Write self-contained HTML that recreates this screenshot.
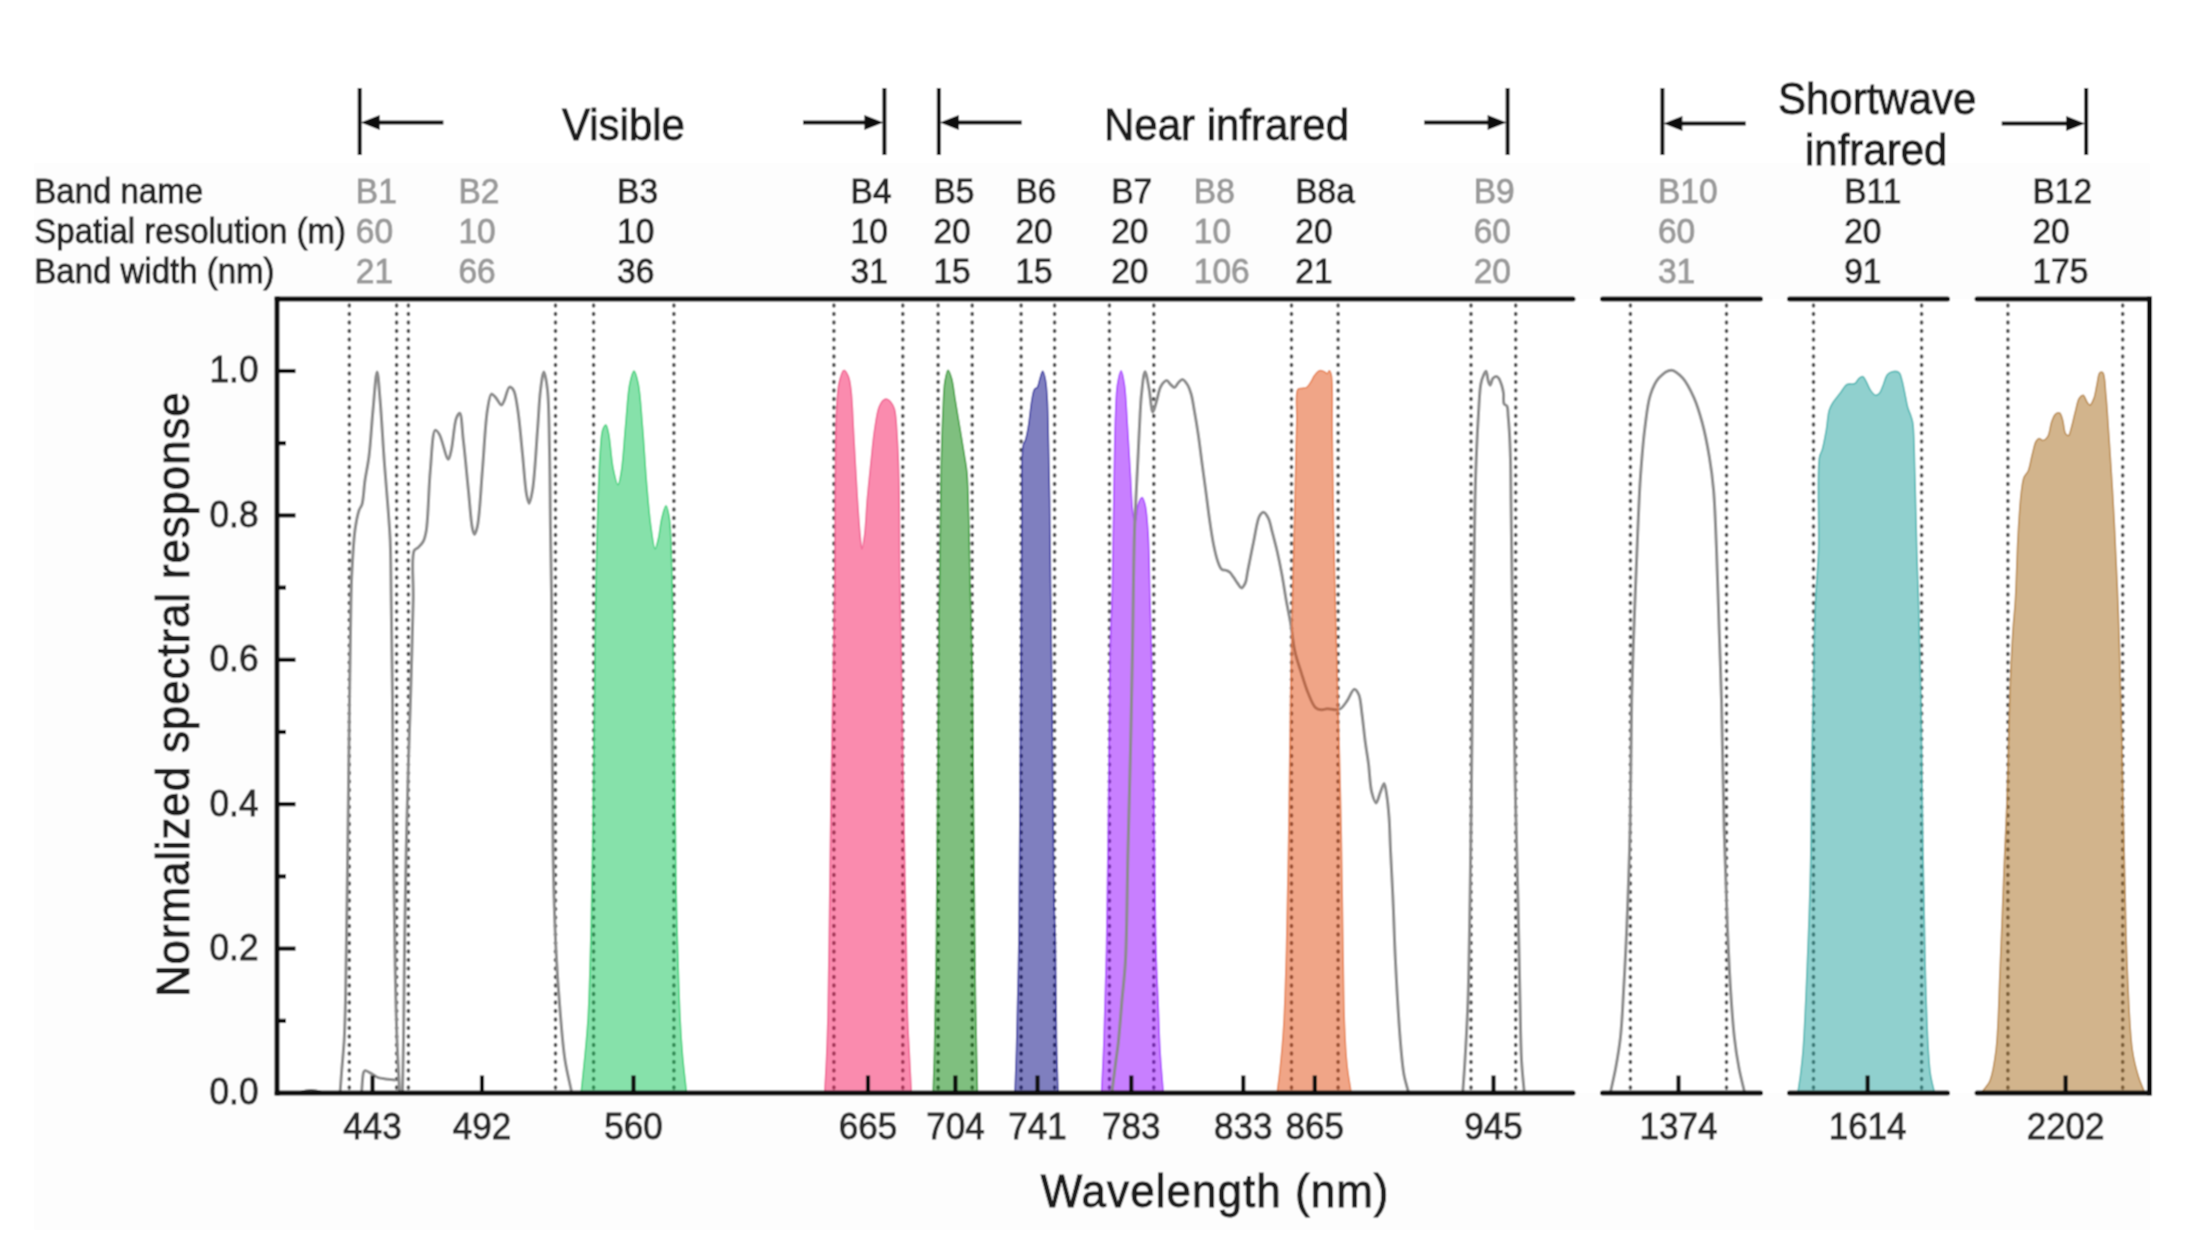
<!DOCTYPE html>
<html><head><meta charset="utf-8"><title>Sentinel-2 MSI spectral response</title>
<style>html,body{margin:0;padding:0;background:#fff;}body{width:2207px;height:1247px;overflow:hidden;}svg{display:block;}text{font-family:"Liberation Sans",Arial,sans-serif;stroke-width:0.9px;}</style>
</head><body>
<svg width="2207" height="1247" viewBox="0 0 2207 1247">
<defs><filter id="soft" filterUnits="userSpaceOnUse" x="0" y="0" width="2207" height="1247"><feConvolveMatrix order="3" kernelMatrix="1 2 1 2 4 2 1 2 1" edgeMode="duplicate"/></filter></defs>
<g filter="url(#soft)">
<rect x="0" y="0" width="2207" height="1247" fill="#ffffff"/>
<rect x="34" y="163" width="2116" height="1067" fill="#fdfdfd"/>
<rect x="277" y="299" width="1873" height="794" fill="#ffffff"/>
<line x1="359.7" y1="88" x2="359.7" y2="155" stroke="#111" stroke-width="4"/>
<line x1="369.7" y1="122.5" x2="443.4" y2="122.5" stroke="#111" stroke-width="4"/>
<polygon points="360.7,122.5 379.7,115 379.7,130" fill="#111"/>
<line x1="803" y1="122.5" x2="874.4" y2="122.5" stroke="#111" stroke-width="4"/>
<polygon points="883.4,122.5 864.4,115 864.4,130" fill="#111"/>
<line x1="884.4" y1="88" x2="884.4" y2="155" stroke="#111" stroke-width="4"/>
<line x1="938.8" y1="88" x2="938.8" y2="155" stroke="#111" stroke-width="4"/>
<line x1="948.8" y1="122.5" x2="1021.7" y2="122.5" stroke="#111" stroke-width="4"/>
<polygon points="939.8,122.5 958.8,115 958.8,130" fill="#111"/>
<line x1="1424.2" y1="122.5" x2="1497.6" y2="122.5" stroke="#111" stroke-width="4"/>
<polygon points="1506.6,122.5 1487.6,115 1487.6,130" fill="#111"/>
<line x1="1507.6" y1="88" x2="1507.6" y2="155" stroke="#111" stroke-width="4"/>
<line x1="1662.4" y1="88" x2="1662.4" y2="155" stroke="#111" stroke-width="4"/>
<line x1="1672.4" y1="123.4" x2="1745.7" y2="123.4" stroke="#111" stroke-width="4"/>
<polygon points="1663.4,123.4 1682.4,115.9 1682.4,130.9" fill="#111"/>
<line x1="2001.7" y1="123.4" x2="2076.2" y2="123.4" stroke="#111" stroke-width="4"/>
<polygon points="2085.2,123.4 2066.2,115.9 2066.2,130.9" fill="#111"/>
<line x1="2086.2" y1="88" x2="2086.2" y2="155" stroke="#111" stroke-width="4"/>
<g font-size="42" fill="#1a1a1a" stroke="#1a1a1a">
<text x="562" y="139.6" transform="matrix(1,0,0,1.04,0,-5.584)">Visible</text>
<text x="1104" y="139.6" transform="matrix(1,0,0,1.04,0,-5.584)">Near infrared</text>
<text x="1778" y="114.4" transform="matrix(1,0,0,1.04,0,-4.576)">Shortwave</text>
<text x="1805" y="164.6" transform="matrix(1,0,0,1.04,0,-6.584)">infrared</text>
</g>
<g font-size="33.5">
<text x="34.3" y="202.6" font-size="33" fill="#262626" stroke="#262626" transform="matrix(1,0,0,1.04,0,-8.104)">Band name</text>
<text x="34.3" y="242.6" font-size="33" fill="#262626" stroke="#262626" transform="matrix(1,0,0,1.04,0,-9.704)">Spatial resolution (m)</text>
<text x="34.3" y="282.6" font-size="33" fill="#262626" stroke="#262626" transform="matrix(1,0,0,1.04,0,-11.304)">Band width (nm)</text>
<text x="355.8" y="202.6" fill="#9a9a9a" stroke="#9a9a9a" transform="matrix(1,0,0,1.04,0,-8.104)">B1</text>
<text x="355.8" y="242.6" fill="#9a9a9a" stroke="#9a9a9a" transform="matrix(1,0,0,1.04,0,-9.704)">60</text>
<text x="355.8" y="282.6" fill="#9a9a9a" stroke="#9a9a9a" transform="matrix(1,0,0,1.04,0,-11.304)">21</text>
<text x="458.5" y="202.6" fill="#9a9a9a" stroke="#9a9a9a" transform="matrix(1,0,0,1.04,0,-8.104)">B2</text>
<text x="458.5" y="242.6" fill="#9a9a9a" stroke="#9a9a9a" transform="matrix(1,0,0,1.04,0,-9.704)">10</text>
<text x="458.5" y="282.6" fill="#9a9a9a" stroke="#9a9a9a" transform="matrix(1,0,0,1.04,0,-11.304)">66</text>
<text x="617.1" y="202.6" fill="#262626" stroke="#262626" transform="matrix(1,0,0,1.04,0,-8.104)">B3</text>
<text x="617.1" y="242.6" fill="#262626" stroke="#262626" transform="matrix(1,0,0,1.04,0,-9.704)">10</text>
<text x="617.1" y="282.6" fill="#262626" stroke="#262626" transform="matrix(1,0,0,1.04,0,-11.304)">36</text>
<text x="850.6" y="202.6" fill="#262626" stroke="#262626" transform="matrix(1,0,0,1.04,0,-8.104)">B4</text>
<text x="850.6" y="242.6" fill="#262626" stroke="#262626" transform="matrix(1,0,0,1.04,0,-9.704)">10</text>
<text x="850.6" y="282.6" fill="#262626" stroke="#262626" transform="matrix(1,0,0,1.04,0,-11.304)">31</text>
<text x="933.4" y="202.6" fill="#262626" stroke="#262626" transform="matrix(1,0,0,1.04,0,-8.104)">B5</text>
<text x="933.4" y="242.6" fill="#262626" stroke="#262626" transform="matrix(1,0,0,1.04,0,-9.704)">20</text>
<text x="933.4" y="282.6" fill="#262626" stroke="#262626" transform="matrix(1,0,0,1.04,0,-11.304)">15</text>
<text x="1015.5" y="202.6" fill="#262626" stroke="#262626" transform="matrix(1,0,0,1.04,0,-8.104)">B6</text>
<text x="1015.5" y="242.6" fill="#262626" stroke="#262626" transform="matrix(1,0,0,1.04,0,-9.704)">20</text>
<text x="1015.5" y="282.6" fill="#262626" stroke="#262626" transform="matrix(1,0,0,1.04,0,-11.304)">15</text>
<text x="1111.2" y="202.6" fill="#262626" stroke="#262626" transform="matrix(1,0,0,1.04,0,-8.104)">B7</text>
<text x="1111.2" y="242.6" fill="#262626" stroke="#262626" transform="matrix(1,0,0,1.04,0,-9.704)">20</text>
<text x="1111.2" y="282.6" fill="#262626" stroke="#262626" transform="matrix(1,0,0,1.04,0,-11.304)">20</text>
<text x="1193.8" y="202.6" fill="#9a9a9a" stroke="#9a9a9a" transform="matrix(1,0,0,1.04,0,-8.104)">B8</text>
<text x="1193.8" y="242.6" fill="#9a9a9a" stroke="#9a9a9a" transform="matrix(1,0,0,1.04,0,-9.704)">10</text>
<text x="1193.8" y="282.6" fill="#9a9a9a" stroke="#9a9a9a" transform="matrix(1,0,0,1.04,0,-11.304)">106</text>
<text x="1295.3" y="202.6" fill="#262626" stroke="#262626" transform="matrix(1,0,0,1.04,0,-8.104)">B8a</text>
<text x="1295.3" y="242.6" fill="#262626" stroke="#262626" transform="matrix(1,0,0,1.04,0,-9.704)">20</text>
<text x="1295.3" y="282.6" fill="#262626" stroke="#262626" transform="matrix(1,0,0,1.04,0,-11.304)">21</text>
<text x="1473.7" y="202.6" fill="#9a9a9a" stroke="#9a9a9a" transform="matrix(1,0,0,1.04,0,-8.104)">B9</text>
<text x="1473.7" y="242.6" fill="#9a9a9a" stroke="#9a9a9a" transform="matrix(1,0,0,1.04,0,-9.704)">60</text>
<text x="1473.7" y="282.6" fill="#9a9a9a" stroke="#9a9a9a" transform="matrix(1,0,0,1.04,0,-11.304)">20</text>
<text x="1658" y="202.6" fill="#9a9a9a" stroke="#9a9a9a" transform="matrix(1,0,0,1.04,0,-8.104)">B10</text>
<text x="1658" y="242.6" fill="#9a9a9a" stroke="#9a9a9a" transform="matrix(1,0,0,1.04,0,-9.704)">60</text>
<text x="1658" y="282.6" fill="#9a9a9a" stroke="#9a9a9a" transform="matrix(1,0,0,1.04,0,-11.304)">31</text>
<text x="1844.2" y="202.6" fill="#262626" stroke="#262626" transform="matrix(1,0,0,1.04,0,-8.104)">B11</text>
<text x="1844.2" y="242.6" fill="#262626" stroke="#262626" transform="matrix(1,0,0,1.04,0,-9.704)">20</text>
<text x="1844.2" y="282.6" fill="#262626" stroke="#262626" transform="matrix(1,0,0,1.04,0,-11.304)">91</text>
<text x="2032.5" y="202.6" fill="#262626" stroke="#262626" transform="matrix(1,0,0,1.04,0,-8.104)">B12</text>
<text x="2032.5" y="242.6" fill="#262626" stroke="#262626" transform="matrix(1,0,0,1.04,0,-9.704)">20</text>
<text x="2032.5" y="282.6" fill="#262626" stroke="#262626" transform="matrix(1,0,0,1.04,0,-11.304)">175</text>
</g>
<g stroke="#555" stroke-width="3.6" stroke-linecap="round" stroke-dasharray="1 7.5" fill="none">
<line x1="349.3" y1="305" x2="349.3" y2="1090"/>
<line x1="396.6" y1="305" x2="396.6" y2="1090"/>
<line x1="408.4" y1="305" x2="408.4" y2="1090"/>
<line x1="555.5" y1="305" x2="555.5" y2="1090"/>
<line x1="593.6" y1="305" x2="593.6" y2="1090"/>
<line x1="673.9" y1="305" x2="673.9" y2="1090"/>
<line x1="833.9" y1="305" x2="833.9" y2="1090"/>
<line x1="902.8" y1="305" x2="902.8" y2="1090"/>
<line x1="938.1" y1="305" x2="938.1" y2="1090"/>
<line x1="972.2" y1="305" x2="972.2" y2="1090"/>
<line x1="1021.1" y1="305" x2="1021.1" y2="1090"/>
<line x1="1054.6" y1="305" x2="1054.6" y2="1090"/>
<line x1="1109.4" y1="305" x2="1109.4" y2="1090"/>
<line x1="1153.8" y1="305" x2="1153.8" y2="1090"/>
<line x1="1291.5" y1="305" x2="1291.5" y2="1090"/>
<line x1="1338.1" y1="305" x2="1338.1" y2="1090"/>
<line x1="1471" y1="305" x2="1471" y2="1090"/>
<line x1="1515.7" y1="305" x2="1515.7" y2="1090"/>
<line x1="1630.4" y1="305" x2="1630.4" y2="1090"/>
<line x1="1726.5" y1="305" x2="1726.5" y2="1090"/>
<line x1="1813.5" y1="305" x2="1813.5" y2="1090"/>
<line x1="1921.6" y1="305" x2="1921.6" y2="1090"/>
<line x1="2007.9" y1="305" x2="2007.9" y2="1090"/>
<line x1="2122.7" y1="305" x2="2122.7" y2="1090"/>
</g>
<path d="M340.1,1092 C340.7,1084.5 341.2,1076.5 341.8,1069.4 C342.3,1063.2 342.9,1057.1 343.3,1051.8 C343.6,1047.5 343.9,1045.1 344.2,1040 C344.7,1030.6 345.1,1017.6 345.5,1000 C346.3,965.9 347,900 347.7,850 C348.4,800 348.9,744.9 349.5,700 C350,663.3 350.4,623.5 351,600 C351.3,587.3 351.4,581.1 352,570.5 C352.7,558.1 353.5,541 355,530 C356.1,522.3 357.4,515 359,510.4 C359.9,507.7 361.2,507.2 362,504.4 C363.6,499.1 363.8,488.3 365,480.3 C366.2,472.3 367.8,465.6 369,456.3 C370.6,443.4 371.6,424.7 373,410 C374.3,396.7 375.8,372 377.1,372 C378.2,372 379.1,388.9 380.1,400 C381.5,416.3 382.8,441.1 384.2,460.3 C385.5,477.8 387.1,495.8 388.2,510.4 C389,521.7 389.7,528.8 390.2,540.5 C390.9,557 390.9,577.6 391.2,600 C391.6,629 392.1,663.3 392.5,700 C392.9,744.9 393,802.8 393.5,850 C393.9,892.2 394.5,935.4 395.2,970 C395.7,996.5 396.2,1018.4 397,1040 C397.7,1058.6 398.7,1074.7 399.5,1092" fill="none" stroke="#8c8c8c" stroke-width="3" stroke-linejoin="round" stroke-linecap="round"/>
<path d="M361.6,1092 C362.3,1085.5 362.4,1075.4 363.6,1072.4 C364,1071.4 364.2,1070.8 365,1070.6 C366.4,1070.3 370.1,1073 372.4,1074.2 C374.5,1075.3 376.2,1076.9 378.3,1077.7 C380.5,1078.5 382.9,1078.5 385.4,1078.9 C388.3,1079.3 391.7,1079.6 394.8,1080" fill="none" stroke="#8c8c8c" stroke-width="3" stroke-linejoin="round" stroke-linecap="round"/>
<path d="M402.5,1092 C402.8,1074.7 403.2,1059.7 403.5,1040 C403.9,1014.1 404.1,980.8 404.5,950 C405,917.5 405.5,882.5 406.2,850 C406.9,819.2 407.7,787 408.5,760 C409.1,738 409.8,722.5 410.5,700 C411.4,670.9 412.6,627.5 413.2,600 C413.7,580.6 410.9,556.9 414.2,550.5 C415.2,548.5 416.9,548.8 418.2,547.5 C419.9,545.9 421.9,544 423.2,541.5 C424.8,538.5 425.4,535.6 426.3,530.4 C428.3,518.4 428.6,488.3 430.3,470.3 C431.7,455.6 432.3,431.2 435.3,430.2 C436.4,429.8 438,432.1 439.3,434.2 C442.2,438.8 446.1,459.3 448.3,459.3 C449.6,459.3 450.3,454.2 451.3,450.2 C453.1,442.8 454,424.1 456.3,418.2 C457.3,415.6 458.7,413 459.7,413.2 C461.7,413.7 462.1,429.8 463.3,440.2 C465,454.3 466.8,474.7 468.4,490.3 C469.8,503.9 470.8,521.2 472.4,528.4 C473,531.3 473.6,534.4 474.4,534.4 C475.3,534.4 476.5,530.4 477.4,526.4 C479.7,516.2 480.8,489.3 482.4,470.3 C484.1,450.6 485.2,423.7 487.4,410.1 C488.6,403 489.4,394.8 491.4,394.1 C492.5,393.7 494,395.7 495.4,397.1 C497.3,399 499.8,405.2 501.4,405.1 C502.6,405 503.4,402.2 504.4,400.1 C506,396.8 507.5,387.7 509.5,387.1 C510.7,386.8 512.4,388.4 513.5,390.1 C515.6,393.4 516.3,400.7 517.5,408.1 C519.4,419.9 521,439.4 522.5,454.2 C523.9,468 524.9,485.7 526.5,494.3 C527.3,498.5 528.2,503.4 529.1,503.4 C530.2,503.4 531.5,496.3 532.5,490.3 C534.7,477.6 536.1,448.2 537.5,430.2 C538.7,415.5 539.1,400.8 540.5,390.1 C541.4,382.9 542.7,372.1 543.9,372.1 C545.1,372.1 546.6,382.3 547.5,390.1 C549.1,404.2 549,428.7 549.5,450.2 C550.1,475 550.1,504.6 550.5,530.4 C550.8,554.4 551.3,569.6 551.6,600 C552.2,657.6 551.9,785.4 553,850 C553.7,890.8 554.6,920.9 556,950 C557.1,972.6 558.4,990.9 560,1010 C561.5,1027.4 562.7,1045.2 565,1060 C566.8,1071.9 569.4,1081.3 571.6,1092" fill="none" stroke="#8c8c8c" stroke-width="3" stroke-linejoin="round" stroke-linecap="round"/>
<path d="M581.2,1092 C582.5,1079.8 583.8,1067.8 585,1055.5 C586.2,1042.8 587.3,1032 588.2,1017 C589.4,995.7 590.1,966.7 590.8,940 C591.6,911.2 592,883.8 592.5,850 C593.2,806.4 593.8,749.1 594.5,700 C595.2,652.5 595.4,603.7 596.5,560 C597.4,521.4 598.6,473.6 600.3,451.1 C601.1,441 601.2,433.5 602.9,429.2 C603.7,427.1 605,424.9 605.9,425 C607.1,425.2 607.8,430.1 608.7,434.2 C610.3,441.9 611.1,458.7 613,467.9 C614.4,474.6 616.5,484.8 618,484.8 C619.3,484.8 620.4,477.2 621.4,471.3 C623.2,460.7 624.2,440.7 625.6,425.8 C627,411.5 627.7,393.5 629.8,383.7 C631,378.2 632.6,371.1 634,371.1 C635.4,371.1 637,378.2 638.2,383.7 C640.3,393.5 641.1,410.6 642.4,425.8 C644,443.8 645.1,466.8 646.7,484.8 C648,500 649.2,515.2 650.9,526.9 C652.1,535.4 653.6,548.7 655.1,548.8 C656.1,548.9 657.4,542.7 658.4,538.7 C659.8,533.2 660.3,524.4 661.8,518.5 C663,513.7 664.7,505.8 666,505.8 C667.3,505.8 668.5,513 669.4,518.5 C670.9,528.3 670.9,542.1 671.5,560 C672.6,592.9 673.3,650.4 674,700 C674.8,756.2 675.2,836.1 676,880 C676.4,905.4 676.8,918.8 677.4,940 C678.1,964.1 679,995.7 680,1017 C680.7,1032 681.4,1042.8 682.5,1055.5 C683.6,1067.8 685.1,1079.8 686.4,1092 Z" fill="#0ec455" fill-opacity="0.5" stroke="#3ccf78" stroke-width="1.6" stroke-opacity="0.9"/>
<path d="M824.8,1092 C825.4,1079.8 826.2,1067.8 826.7,1055.5 C827.2,1042.8 827.6,1032 828,1017 C828.5,995.7 828.8,969.5 829.2,940 C829.8,900.3 830.3,847.5 831,800 C831.7,750.9 832.8,690.6 833.5,650 C834,622.3 834.4,608.5 834.8,580 C835.4,535.5 834.8,441.4 836.6,409 C837.3,396.1 837.6,389.1 839.3,382 C840.5,377.2 842.2,370.5 843.9,370.3 C845.3,370.1 847.3,373.9 848.4,376.6 C850,380.3 850.3,384.9 851.1,391.1 C852.4,401.9 852.8,419.9 853.8,436.2 C854.9,455.5 856.2,481.2 857.4,499.3 C858.3,513 859.2,526.2 860.1,535.3 C860.7,540.9 861.2,548.9 861.9,548.9 C862.7,548.9 863.8,540.9 864.6,535.3 C865.8,526.2 866.3,511.3 867.3,499.3 C868.4,487.3 869.7,474.9 870.9,463.2 C872.1,452.1 873,440.6 874.5,430.7 C875.8,422.2 876.9,412.7 879,407.3 C880.3,404.1 881.8,401.3 883.5,400.1 C884.6,399.3 886,399 887.1,399.2 C888.4,399.5 889.6,400.6 890.7,401.9 C892.1,403.6 893.4,405.8 894.4,409.1 C896.2,415.1 896.4,426 897.1,436.2 C898,449.3 898.5,463.3 898.9,481.2 C899.6,507.7 899.3,545.5 899.8,580 C900.3,618.1 901.3,657.8 902,700 C902.8,747.2 903.7,806.4 904.5,850 C905.1,883.8 905.7,911.2 906.2,940 C906.7,966.7 906.8,995.7 907.5,1017 C908,1032 908.8,1042.8 909.4,1055.5 C910,1067.8 910.7,1079.8 911.3,1092 Z" fill="#f5175d" fill-opacity="0.5" stroke="#f06090" stroke-width="1.6" stroke-opacity="0.9"/>
<path d="M933.2,1092 C933.6,1078 934.1,1067.3 934.5,1050 C935.2,1022 935.9,978.9 936.4,940 C937,896.1 937.1,849.6 937.5,800 C938,743.8 938.5,663.9 939,620 C939.3,594.6 939.7,582.4 940,560 C940.4,531.5 940.7,490.6 941.3,463 C941.8,442.4 942.4,423.9 943.1,409 C943.6,398.5 943.7,389.1 944.9,382 C945.7,377.3 946.8,370.4 948,370.3 C949.1,370.2 950.6,375 951.6,378.5 C953.2,383.9 953.9,392.5 955.2,400.1 C956.6,408.6 958.2,418.2 959.7,427.2 C961.2,436.2 962.9,446.2 964.2,454.3 C965.2,460.9 966.2,464.9 966.9,472.3 C968,483.9 968.2,501.2 968.7,517.5 C969.3,536.6 969.5,556.7 970,580 C970.7,609.4 971.9,645.1 972.5,680 C973.1,718.2 973.1,758.5 973.5,800 C973.9,844.9 974.4,903.1 974.8,940 C975.1,964.2 975.1,977.9 975.5,1000 C975.9,1027.4 976.8,1061.3 977.4,1092 Z" fill="#008000" fill-opacity="0.5" stroke="#3a9a3a" stroke-width="1.6" stroke-opacity="0.9"/>
<path d="M1015,1092 C1015.5,1078 1016,1067.3 1016.5,1050 C1017.3,1022 1018.3,978.9 1018.9,940 C1019.6,896.1 1019.6,850.8 1020,800 C1020.4,739.3 1020.9,651.7 1021.3,600 C1021.5,567.3 1021.7,546.2 1022,520 C1022.3,494.7 1020.9,455.8 1023.2,445.3 C1023.8,442.3 1024.9,442.1 1025.6,439.8 C1026.7,436.5 1027.4,432.2 1028.3,427.2 C1029.6,419.9 1030.6,407.1 1031.9,400.1 C1032.7,395.7 1033.2,391.3 1034.6,389.3 C1035.4,388.2 1036.5,388.5 1037.3,387.5 C1038.6,385.7 1039.1,381.3 1040,378.5 C1040.9,375.9 1041.8,371.2 1042.7,371.2 C1043.7,371.2 1044.8,376.6 1045.5,380.3 C1046.5,385.6 1046.8,392.1 1047.3,400.1 C1048,412.1 1048.1,429.6 1048.5,445.3 C1048.9,462.5 1049.3,479.6 1049.6,499.4 C1050,523.6 1050.2,550.5 1050.5,580 C1050.9,616 1051.5,654.9 1052,700 C1052.7,758.2 1053.1,858.8 1054,900 C1054.4,918.4 1055,923.7 1055.4,940 C1056,965.8 1055.9,1012.1 1056.5,1040 C1056.9,1060.1 1057.5,1074.7 1058,1092 Z" fill="#000080" fill-opacity="0.5" stroke="#3a3aa0" stroke-width="1.6" stroke-opacity="0.9"/>
<path d="M1101.6,1092 C1102.4,1074.7 1103.3,1059.7 1104,1040 C1105,1014.1 1105.8,983.8 1106.5,950 C1107.4,906.4 1107.9,850 1108.5,800 C1109.1,750 1109.3,688.7 1110.2,650 C1110.8,625.5 1111.8,611.3 1112.4,590 C1113,565.8 1113.1,539.7 1113.6,512.3 C1114.2,481.5 1114.6,437.2 1115.6,414 C1116.1,401.3 1116.2,392.4 1117.5,384.5 C1118.4,379 1119.9,370.7 1121.1,370.7 C1122.2,370.7 1123.5,378.7 1124.4,384.5 C1125.9,394.2 1126.4,410 1127.3,423.8 C1128.3,439.3 1129.3,457.4 1130.3,472.9 C1131.2,486.8 1131.5,503.6 1132.8,512.3 C1133.5,516.7 1134.4,522.1 1135.2,522.1 C1136.2,522.1 1136.6,508.8 1138.2,504.4 C1139.2,501.5 1141,497.4 1142.1,497.5 C1143.2,497.6 1144.2,501.3 1145,504.4 C1146.6,510.4 1147.2,520.7 1148,531.9 C1149.2,549.5 1149.4,579 1150,600 C1150.5,618 1150.9,628.9 1151.4,650 C1152.2,686.6 1153.2,750 1154,800 C1154.8,850 1155,913.4 1156,950 C1156.6,971.1 1157.3,983.3 1158,1000 C1158.7,1016.7 1159.1,1034.1 1160,1050 C1160.8,1064.6 1162.1,1078 1163.2,1092 Z" fill="#9100ff" fill-opacity="0.5" stroke="#a640ff" stroke-width="1.6" stroke-opacity="0.9"/>
<path d="M1112,1092 C1113.3,1081.3 1114.8,1069.1 1116,1060 C1116.9,1053.3 1117.5,1049.7 1118.3,1042.6 C1119.5,1031.5 1120.8,1014 1122,1000 C1123.2,986.5 1124.6,976.7 1125.5,960 C1127,932.4 1127.1,885.8 1128,850 C1128.8,815.9 1129.7,783.3 1130.5,750 C1131.2,716.7 1132,680.4 1132.5,650 C1132.9,624.6 1133.1,601.2 1133.5,580 C1133.8,562.5 1134,547.1 1134.5,531.9 C1134.9,518.1 1135.6,505.7 1136.2,492.6 C1136.8,479.5 1137.5,466.4 1138.2,453.3 C1138.8,440.2 1139.5,424.9 1140.1,414 C1140.6,406.3 1140.7,401.1 1141.5,394.3 C1142.3,387 1143.6,371.8 1145,371.7 C1146.2,371.7 1147.8,382.3 1149,388.4 C1150.4,395.6 1151.3,411.9 1152.9,412 C1154,412.1 1155.5,404.3 1156.8,400.2 C1158.2,395.8 1158.8,389.8 1160.8,386.4 C1162.4,383.8 1164.9,380.6 1166.7,380.6 C1168.1,380.6 1169.3,383.3 1170.6,384.5 C1171.9,385.6 1173.3,387.6 1174.5,387.4 C1175.9,387.2 1177.1,383.9 1178.5,382.5 C1179.7,381.3 1181.1,379.5 1182.4,379.6 C1184,379.7 1185.9,382.4 1187.3,384.5 C1189,387.1 1190.1,390.6 1191.2,394.3 C1192.5,398.9 1193.2,404.2 1194.2,410 C1195.5,417.1 1196.9,425.3 1198.1,433.6 C1199.5,442.9 1200.7,453.3 1202,463.1 C1203.3,472.9 1204.7,482.8 1206,492.6 C1207.3,502.4 1208.5,512.8 1209.9,522.1 C1211.1,530.4 1212.3,538.7 1213.8,545.7 C1215,551.5 1216.2,557.1 1217.8,561.4 C1219,564.6 1220,568 1221.7,569.3 C1222.8,570.2 1224.3,569.7 1225.6,570.2 C1227,570.7 1228.4,571.2 1229.6,572.2 C1231.1,573.4 1232.2,575.4 1233.5,577.1 C1234.8,578.9 1236,581.2 1237.4,583 C1238.7,584.7 1240.2,587.9 1241.5,587.9 C1242.8,587.9 1244.3,585.1 1245.3,583 C1246.7,580 1246.7,576 1247.7,571.2 C1249.2,563.6 1251.6,551.2 1253.6,541.7 C1255.5,532.8 1256.9,520.7 1259.5,516.1 C1260.7,514 1262.1,512.1 1263.4,512.2 C1265,512.3 1267,515.5 1268.3,518.1 C1270.1,521.6 1270.9,526.9 1272.2,531.9 C1273.8,537.9 1275.6,544.7 1277.2,551.5 C1278.9,559 1280.5,566.9 1282,575 C1283.6,583.7 1285,593.5 1286.5,602 C1287.9,609.5 1289.3,615.7 1290.6,623.3 C1292.1,632 1292.9,642.7 1294.9,651.4 C1296.6,659.2 1299.2,666.1 1301.4,673.1 C1303.5,679.8 1305.4,686.5 1307.9,692.5 C1310.2,698 1312.6,705.1 1315.5,707.7 C1317.2,709.2 1319,709.6 1320.9,709.8 C1322.9,710 1325.1,708.8 1327.4,708.8 C1330.1,708.8 1333.6,709.9 1336,709.8 C1337.7,709.7 1338.9,709.7 1340.4,708.8 C1342.6,707.5 1344.8,704.1 1346.9,701.2 C1349.4,697.8 1352.1,689.4 1354.4,689.3 C1356,689.2 1357.6,692.1 1358.8,694.7 C1360.7,699 1361,707.1 1362,714.2 C1363.2,722.7 1364.1,733.6 1365.3,742.3 C1366.3,750 1367.5,756.2 1368.5,763.9 C1369.6,772.7 1369.9,785 1371.7,792.1 C1372.9,796.6 1374.6,802.9 1376.1,802.9 C1377.5,802.9 1379,795.5 1380.4,792.1 C1381.7,789 1383.1,783.3 1384.1,783.4 C1385.3,783.5 1386.1,791.5 1386.9,796.4 C1387.9,802.7 1388.5,810.1 1389.1,818 C1389.8,827.6 1389.9,838.1 1390.5,850 C1391.2,864.8 1392.2,882.6 1393,900 C1393.9,919.1 1394.3,938.2 1395.4,960 C1396.7,986.2 1399,1025.6 1400.8,1046.6 C1401.9,1058.7 1402.5,1066.8 1404,1075 C1405.2,1081.4 1406.9,1086.3 1408.4,1092" fill="none" stroke="#8c8c8c" stroke-width="3" stroke-linejoin="round" stroke-linecap="round"/>
<path d="M1277.3,1092 C1278.2,1084.7 1279.1,1078.6 1280,1070 C1281.3,1057.7 1282.8,1041.9 1283.8,1025 C1285.1,1003.2 1285.7,977.9 1286.5,950 C1287.5,914.7 1288.1,870.8 1288.8,830 C1289.5,787.5 1289.8,740.5 1290.5,700 C1291.1,664.5 1291.8,633.3 1292.5,600 C1293.3,566.7 1294.3,531.5 1295,500 C1295.7,471.8 1296.2,440.4 1296.8,420 C1297.1,407.4 1295.1,392.8 1297.8,389.4 C1298.8,388.2 1300.3,388.7 1301.7,388.4 C1303.2,388 1305.2,388.3 1306.6,387.4 C1308.2,386.4 1309.3,384.3 1310.6,382.5 C1312,380.4 1313,377.6 1314.5,375.6 C1315.9,373.7 1317.6,371.2 1319.4,370.7 C1320.9,370.2 1322.9,371.1 1324.3,371.7 C1325.5,372.2 1326.5,373.9 1327.3,373.7 C1328.1,373.5 1328.6,370.7 1329.2,370.7 C1329.9,370.7 1330.7,372.4 1331.2,374.6 C1333.2,382.6 1331.8,410.6 1332.2,433.6 C1332.7,465.9 1333.2,512.7 1334,550 C1334.7,584.6 1335.6,616.7 1336.5,650 C1337.4,683.3 1338.5,718.5 1339.3,750 C1340,778.2 1340.6,800.6 1341.2,830 C1341.9,866 1342.4,914.7 1343,950 C1343.5,977.9 1343.6,1003.9 1344.5,1025 C1345.1,1040.4 1345.7,1053 1347,1065 C1348,1074.9 1349.7,1083 1351,1092 Z" fill="#e14b0f" fill-opacity="0.5" stroke="#e5804f" stroke-width="1.6" stroke-opacity="0.9"/>
<path d="M1462.8,1092 C1463.5,1081.3 1464.3,1072.3 1465,1060 C1466,1043.1 1467.2,1022.5 1468,1000 C1469,970.9 1469.4,933.3 1470,900 C1470.5,866.7 1470.9,836.7 1471.3,800 C1471.8,755.1 1472.4,700 1473,650 C1473.6,600 1474.1,537.1 1475,500 C1475.5,478.2 1476,463.6 1476.7,448 C1477.2,435.2 1477.8,424.2 1478.5,413.1 C1479.2,403 1479.5,391 1480.8,384.1 C1481.6,380.1 1482.6,377.1 1483.7,374.8 C1484.4,373.3 1485.3,371.2 1486,371.3 C1487.1,371.5 1487.5,379.2 1488.4,381.7 C1488.9,383.2 1489.5,385.2 1490.1,385.2 C1491,385.2 1491.7,379.7 1493,378.3 C1494,377.3 1495.5,376.4 1496.5,376.5 C1497.4,376.6 1498.1,377.4 1498.8,378.3 C1499.9,379.8 1500.9,382.8 1501.7,385.2 C1502.5,387.8 1503.1,390.5 1503.5,393.4 C1503.9,396.6 1503,401.7 1504.1,403.8 C1504.7,405.1 1506.3,404.9 1507,406.2 C1508.1,408.2 1507.8,412 1508.1,415.5 C1508.5,419.9 1508.9,424.7 1509.3,430.6 C1509.8,438.7 1510.2,449.2 1510.5,459.7 C1510.8,472 1510.8,482.3 1511,500 C1511.4,534.1 1512.3,600 1513,650 C1513.8,700 1514.6,755.1 1515.5,800 C1516.3,836.7 1517.2,866.7 1518,900 C1518.7,933.3 1519.3,970.9 1520,1000 C1520.5,1022.5 1520.6,1043.1 1521.5,1060 C1522.2,1072.3 1523.3,1081.3 1524.2,1092" fill="none" stroke="#8c8c8c" stroke-width="3" stroke-linejoin="round" stroke-linecap="round"/>
<path d="M1610.5,1092 C1612.2,1084.3 1613.9,1077.3 1615.5,1069 C1617.3,1059.2 1619.2,1048.6 1620.5,1036.8 C1622.1,1022.4 1622.7,1005.8 1623.7,988.6 C1624.9,968.8 1625.9,948 1626.9,924.5 C1628.1,895.6 1629.3,862.4 1630.1,828 C1631,788.3 1630.8,739.7 1631.7,700 C1632.5,665.3 1633.8,632.5 1634.9,602.7 C1635.8,577.4 1636.7,554.6 1637.7,532.5 C1638.6,512.8 1639.2,494.3 1640.5,476.4 C1641.7,459.8 1642.9,443.1 1644.8,428.6 C1646.4,416.4 1647.4,404 1650.4,394.9 C1652.6,388.1 1655,382.3 1658.8,378.1 C1662.2,374.4 1667.3,370.1 1671.4,370.2 C1675.3,370.3 1679.3,374.4 1682.7,378.1 C1687,382.9 1690.7,390.6 1693.9,397.7 C1697.4,405.4 1699.8,413.9 1702.3,423 C1705.1,433.4 1707.4,445.4 1709.3,456.7 C1711.2,467.9 1712.5,477.7 1713.6,490.4 C1715,506.7 1715.5,526 1716.4,546.6 C1717.4,571.8 1718.3,604.1 1719.2,630.8 C1720,655 1720.8,673.4 1721.5,700 C1722.5,736.2 1723,788.3 1724.1,828 C1725,862.4 1726.1,895.6 1727.3,924.5 C1728.3,948 1729.2,968.8 1730.5,988.6 C1731.6,1005.8 1732.7,1022.4 1734.3,1036.8 C1735.6,1048.6 1737.2,1059 1739.1,1068.8 C1740.7,1077.2 1742.7,1084.3 1744.5,1092" fill="none" stroke="#8c8c8c" stroke-width="3" stroke-linejoin="round" stroke-linecap="round"/>
<path d="M1798,1092 C1798.8,1086.3 1799.7,1081.2 1800.5,1075 C1801.4,1067.6 1802.3,1061 1803.1,1050.4 C1804.6,1031.3 1805.9,998.3 1807.1,970 C1808.4,938.5 1809.7,904.9 1810.5,870 C1811.4,831.8 1811.4,788.2 1812,750 C1812.6,715.1 1813.3,677.6 1814,650 C1814.5,630.5 1814.8,616.5 1815.6,600 C1816.3,583.7 1817.8,570.4 1818.5,551.6 C1819.4,525.3 1816.9,471.2 1819.5,457.2 C1820.3,453 1821.5,452.6 1822.4,449.3 C1823.8,444.3 1825.2,436.3 1826.4,429.7 C1827.5,423.2 1827.7,415 1829.3,410 C1830.3,406.7 1831.6,404.8 1833.2,402.2 C1835.1,399.2 1837.8,396.3 1840.1,393.3 C1842.4,390.4 1844.3,386.1 1847,384.5 C1849.3,383.2 1852.9,384.6 1854.9,383.5 C1856.7,382.5 1857.4,379.8 1858.8,378.6 C1860,377.6 1861.6,376.3 1862.7,376.6 C1863.9,376.9 1864.7,378.9 1865.7,380.6 C1867.2,383.1 1868.7,387.8 1870.6,390.4 C1872.1,392.5 1873.9,395 1875.5,395.3 C1876.8,395.5 1878.3,394.5 1879.4,393.3 C1881.1,391.5 1882.1,387.5 1883.4,384.5 C1884.7,381.3 1885.5,376.9 1887.3,374.7 C1888.6,373.1 1890.4,372.1 1892.2,371.7 C1894.2,371.3 1897.5,371.4 1899.1,372.7 C1900.9,374.1 1901.1,377.6 1902,380.6 C1903.1,384.5 1904,389.7 1905,394.3 C1906,398.9 1906.7,404.2 1907.9,408.1 C1908.8,411.1 1910.1,413.3 1910.9,415.9 C1911.7,418.5 1912.4,420 1912.9,423.8 C1914.2,433.1 1914.2,454.6 1914.8,472.9 C1915.5,496.1 1916.1,528.5 1916.8,551.6 C1917.3,569.7 1917.9,581 1918.5,600 C1919.3,627.3 1920.3,663.3 1921,700 C1921.9,744.9 1922.2,802.8 1923,850 C1923.7,892.2 1924.3,934 1925.3,970 C1926.1,999.4 1927.1,1030.9 1928.3,1050 C1929,1060.7 1929.3,1067.5 1930.5,1075 C1931.5,1081.2 1933,1086.3 1934.3,1092 Z" fill="#21a19d" fill-opacity="0.5" stroke="#4cb4b0" stroke-width="1.6" stroke-opacity="0.9"/>
<path d="M1982,1092 C1983.3,1090.3 1984.7,1088.8 1986,1087 C1987.4,1085 1988.9,1083.6 1990.1,1080.5 C1992.6,1074.2 1994.5,1062.6 1996.1,1050 C1998.6,1029.7 1998.8,998.2 2000.1,970 C2001.5,938.5 2002.8,900.4 2004,870 C2005,844.6 2006.1,825.4 2007,800 C2008.1,769.6 2008.6,730.4 2009.7,700 C2010.6,674.6 2011.8,648.5 2013,630 C2013.8,617.9 2014.7,612 2015.4,600 C2016.5,581.9 2017.1,551.5 2018.3,531.9 C2019.2,517 2020,502.7 2021.3,492.6 C2022.1,486.2 2022.6,480.8 2024.2,476.9 C2025.3,474.3 2027.1,473.6 2028.2,471 C2029.9,467.1 2030.8,460.3 2032.1,455.2 C2033.4,450.5 2034.4,444.3 2036,441.5 C2036.9,440 2037.9,438.7 2039,438.5 C2040.2,438.3 2041.6,440.6 2042.9,440.5 C2044.5,440.3 2046.5,438.6 2047.8,436.6 C2049.9,433.4 2050.1,425.9 2051.7,421.8 C2052.9,418.7 2054,415.3 2055.7,414 C2056.8,413.1 2058.5,412.5 2059.6,413 C2061,413.7 2061.7,417.2 2062.6,419.9 C2063.8,423.6 2063.9,431.2 2065.5,433.6 C2066.3,434.8 2067.6,435.9 2068.5,435.6 C2069.8,435.2 2070.4,430.8 2071.4,427.7 C2072.7,423.4 2073.9,417.1 2075.3,412 C2076.6,407.2 2077.4,400.9 2079.3,398.2 C2080.4,396.6 2082,395.1 2083.2,395.3 C2084.7,395.6 2085.8,400.5 2087.1,402.2 C2088.1,403.5 2089.1,405.2 2090.1,405.1 C2091.4,404.9 2092.9,401 2094,398.2 C2095.4,394.5 2096,388.9 2097,384.5 C2097.9,380.4 2098.3,374 2099.9,372.7 C2100.7,372.1 2102,372 2102.8,372.7 C2105,374.6 2104.9,386 2105.8,394.3 C2107,405.4 2107.8,421.4 2108.7,433.6 C2109.4,444.1 2110,452 2110.7,463.1 C2111.6,477.4 2112.9,496.8 2113.7,512.3 C2114.5,526.1 2115,537.8 2115.6,551.6 C2116.3,566.9 2117.2,583.7 2117.8,600 C2118.5,616.5 2118.9,630.5 2119.5,650 C2120.3,677.6 2121.2,715.5 2122,750 C2122.9,787 2123.6,827.5 2124.5,865 C2125.4,900.8 2125.8,937.4 2127.3,970 C2128.6,998.5 2129.5,1030.6 2132.3,1050 C2133.9,1061.3 2136.1,1068.9 2138.4,1076.5 C2140.2,1082.4 2142.4,1086.8 2144.4,1092 Z" fill="#a5691a" fill-opacity="0.5" stroke="#b8884a" stroke-width="1.6" stroke-opacity="0.9"/>
<path d="M301,1091.5 Q311,1088.3 321,1091.5" fill="none" stroke="#555" stroke-width="1.6"/>
<g stroke="#0d0d0d" stroke-width="5" stroke-linecap="round" fill="none">
<line x1="277" y1="299" x2="1573" y2="299"/>
<line x1="277" y1="1093" x2="1573" y2="1093"/>
<line x1="1602.5" y1="299" x2="1760.5" y2="299"/>
<line x1="1602.5" y1="1093" x2="1760.5" y2="1093"/>
<line x1="1789.5" y1="299" x2="1947.5" y2="299"/>
<line x1="1789.5" y1="1093" x2="1947.5" y2="1093"/>
<line x1="1977" y1="299" x2="2149.5" y2="299"/>
<line x1="1977" y1="1093" x2="2149.5" y2="1093"/>
<line x1="277" y1="296.5" x2="277" y2="1095.5" stroke-linecap="butt"/>
<line x1="2149.5" y1="296.5" x2="2149.5" y2="1095.5" stroke-linecap="butt"/>
</g>
<g stroke="#0d0d0d" stroke-width="4.2" fill="none">
<line x1="278" y1="1020.8" x2="286" y2="1020.8"/>
<line x1="278" y1="948.6" x2="295.5" y2="948.6"/>
<line x1="278" y1="876.4" x2="286" y2="876.4"/>
<line x1="278" y1="804.2" x2="295.5" y2="804.2"/>
<line x1="278" y1="732" x2="286" y2="732"/>
<line x1="278" y1="659.8" x2="295.5" y2="659.8"/>
<line x1="278" y1="587.6" x2="286" y2="587.6"/>
<line x1="278" y1="515.4" x2="295.5" y2="515.4"/>
<line x1="278" y1="443.2" x2="286" y2="443.2"/>
<line x1="278" y1="371" x2="295.5" y2="371"/>
<line x1="372.5" y1="1092" x2="372.5" y2="1075.5"/>
<line x1="482" y1="1092" x2="482" y2="1075.5"/>
<line x1="633.5" y1="1092" x2="633.5" y2="1075.5"/>
<line x1="868" y1="1092" x2="868" y2="1075.5"/>
<line x1="955.4" y1="1092" x2="955.4" y2="1075.5"/>
<line x1="1037.5" y1="1092" x2="1037.5" y2="1075.5"/>
<line x1="1131.3" y1="1092" x2="1131.3" y2="1075.5"/>
<line x1="1243.3" y1="1092" x2="1243.3" y2="1075.5"/>
<line x1="1314.8" y1="1092" x2="1314.8" y2="1075.5"/>
<line x1="1493.5" y1="1092" x2="1493.5" y2="1075.5"/>
<line x1="1678.5" y1="1092" x2="1678.5" y2="1075.5"/>
<line x1="1867.6" y1="1092" x2="1867.6" y2="1075.5"/>
<line x1="2065.6" y1="1092" x2="2065.6" y2="1075.5"/>
</g>
<g font-size="35" fill="#2a2a2a" stroke="#2a2a2a">
<text x="258.5" y="382.3" text-anchor="end" font-size="36.5" textLength="49" lengthAdjust="spacingAndGlyphs">1.0</text>
<text x="258.5" y="526.7" text-anchor="end" font-size="36.5" textLength="49" lengthAdjust="spacingAndGlyphs">0.8</text>
<text x="258.5" y="671.1" text-anchor="end" font-size="36.5" textLength="49" lengthAdjust="spacingAndGlyphs">0.6</text>
<text x="258.5" y="815.5" text-anchor="end" font-size="36.5" textLength="49" lengthAdjust="spacingAndGlyphs">0.4</text>
<text x="258.5" y="959.9" text-anchor="end" font-size="36.5" textLength="49" lengthAdjust="spacingAndGlyphs">0.2</text>
<text x="258.5" y="1104.3" text-anchor="end" font-size="36.5" textLength="49" lengthAdjust="spacingAndGlyphs">0.0</text>
<text x="372.5" y="1139" text-anchor="middle" transform="matrix(1,0,0,1.04,0,-45.56)">443</text>
<text x="482" y="1139" text-anchor="middle" transform="matrix(1,0,0,1.04,0,-45.56)">492</text>
<text x="633.5" y="1139" text-anchor="middle" transform="matrix(1,0,0,1.04,0,-45.56)">560</text>
<text x="868" y="1139" text-anchor="middle" transform="matrix(1,0,0,1.04,0,-45.56)">665</text>
<text x="955.4" y="1139" text-anchor="middle" transform="matrix(1,0,0,1.04,0,-45.56)">704</text>
<text x="1037.5" y="1139" text-anchor="middle" transform="matrix(1,0,0,1.04,0,-45.56)">741</text>
<text x="1131.3" y="1139" text-anchor="middle" transform="matrix(1,0,0,1.04,0,-45.56)">783</text>
<text x="1243.3" y="1139" text-anchor="middle" transform="matrix(1,0,0,1.04,0,-45.56)">833</text>
<text x="1314.8" y="1139" text-anchor="middle" transform="matrix(1,0,0,1.04,0,-45.56)">865</text>
<text x="1493.5" y="1139" text-anchor="middle" transform="matrix(1,0,0,1.04,0,-45.56)">945</text>
<text x="1678.5" y="1139" text-anchor="middle" transform="matrix(1,0,0,1.04,0,-45.56)">1374</text>
<text x="1867.6" y="1139" text-anchor="middle" transform="matrix(1,0,0,1.04,0,-45.56)">1614</text>
<text x="2065.6" y="1139" text-anchor="middle" transform="matrix(1,0,0,1.04,0,-45.56)">2202</text>
</g>
<text x="1040.7" y="1207" font-size="44" letter-spacing="1.04" fill="#1a1a1a" stroke="#1a1a1a" transform="matrix(1,0,0,1.04,0,-48.28)">Wavelength (nm)</text>
<text transform="translate(188.5,997) rotate(-90) scale(1,1.04)" x="0" y="0" font-size="44" letter-spacing="0.85" fill="#1a1a1a" stroke="#1a1a1a">Normalized spectral response</text>
</g>
</svg></body></html>
